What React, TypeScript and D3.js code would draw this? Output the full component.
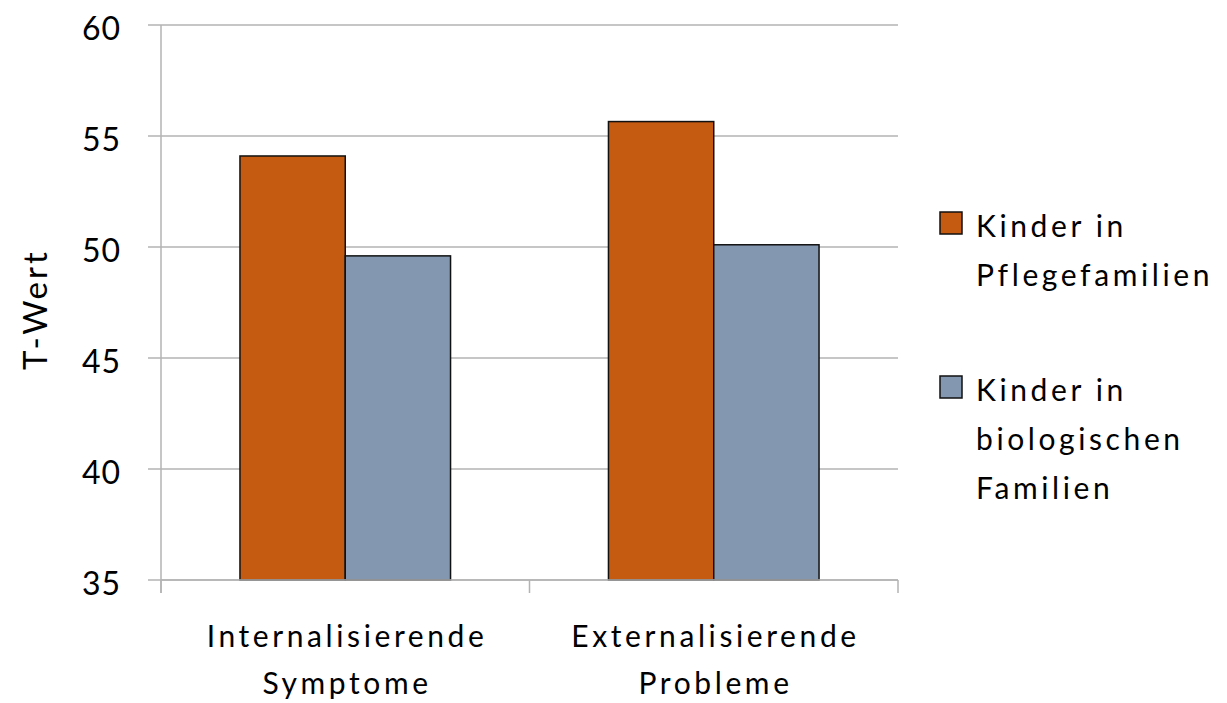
import React from "react";
import * as d3 from "d3";

const categories = [
  ["Internalisierende", "Symptome"],
  ["Externalisierende", "Probleme"],
];
const seriesNames = [
  ["Kinder in", "Pflegefamilien"],
  ["Kinder in", "biologischen", "Familien"],
];
const pflegeValues = [54.1, 55.65];
const biologischValues = [49.6, 50.1];
const seriesColors = ["#C55A11", "#8497B0"];
const yTicks = [35, 40, 45, 50, 55, 60];

const W = 1227;
const H = 703;
const FONT = "Lato, 'Open Sans', sans-serif";
const SPACING = 3.6;

export default function App() {
  const left = 161;
  const right = 898;
  const top = 25;
  const bottom = 580;

  const x = d3.scaleBand<number>().domain([0, 1]).range([left, right]).padding(0);
  const bw = x.bandwidth();
  // gap width 75% of a bar on each side of the pair
  const barW = bw / (2 + 1.5);
  const inner = d3
    .scaleBand<number>()
    .domain([0, 1])
    .range([(bw - 2 * barW) / 2, (bw + 2 * barW) / 2])
    .padding(0);
  const y = d3.scaleLinear().domain([35, 60]).range([bottom, top]);

  const series = [pflegeValues, biologischValues];
  const grid = "#b3b3b3";

  return (
    <svg width={W} height={H} style={{ position: "absolute", left: 0, top: 0, background: "#fff" }}>
      {/* gridlines and y ticks */}
      {yTicks.map((t) => (
        <g key={t}>
          <line x1={148} x2={right} y1={y(t)} y2={y(t)} stroke={grid} strokeWidth={1.5} />
          <text
            x={121}
            y={y(t) + 2}
            textAnchor="end"
            dominantBaseline="central"
            fontFamily={FONT}
            fontSize={32}
            letterSpacing={1}
            fill="#000"
          >
            {t}
          </text>
        </g>
      ))}
      {/* y axis line */}
      <line x1={left} x2={left} y1={top} y2={bottom + 13} stroke={grid} strokeWidth={1.5} />
      {/* category ticks */}
      {[0, 1, 2].map((i) => {
        const xx = left + i * bw;
        return <line key={i} x1={xx} x2={xx} y1={bottom} y2={bottom + 13} stroke={grid} strokeWidth={1.5} />;
      })}
      {/* bars */}
      {categories.map((_, ci) =>
        series.map((vals, si) => {
          const x0 = (x(ci) ?? 0) + (inner(si) ?? 0);
          return (
            <rect
              key={`${ci}-${si}`}
              x={x0}
              y={y(vals[ci])}
              width={inner.bandwidth()}
              height={bottom - y(vals[ci])}
              fill={seriesColors[si]}
              stroke="#111"
              strokeWidth={1.5}
            />
          );
        })
      )}
      {/* x axis line */}
      <line x1={left} x2={right} y1={bottom} y2={bottom} stroke={grid} strokeWidth={1.5} />
      {/* category labels */}
      {categories.map((lines, ci) => (
        <text
          key={ci}
          textAnchor="middle"
          fontFamily={FONT}
          fontSize={30}
          letterSpacing={SPACING}
          fill="#000"
        >
          {lines.map((l, li) => (
            <tspan key={li} x={(x(ci) ?? 0) + bw / 2 + SPACING / 2} y={647 + li * 47}>
              {l}
            </tspan>
          ))}
        </text>
      ))}
      {/* y axis title */}
      <text
        transform={`translate(47, ${(top + bottom) / 2 + 7}) rotate(-90)`}
        textAnchor="middle"
        fontFamily={FONT}
        fontSize={33}
        letterSpacing={3}
        fill="#000"
      >
        T-Wert
      </text>
      {/* legend */}
      {seriesNames.map((lines, si) => {
        const y0 = si === 0 ? 212 : 376;
        return (
          <g key={si}>
            <rect x={940} y={y0} width={22} height={22} fill={seriesColors[si]} stroke="#111" strokeWidth={1.5} />
            <text fontFamily={FONT} fontSize={30} letterSpacing={SPACING} fill="#000">
              {lines.map((l, li) => (
                <tspan key={li} x={976} y={y0 + 25 + li * 49}>
                  {l}
                </tspan>
              ))}
            </text>
          </g>
        );
      })}
    </svg>
  );
}
